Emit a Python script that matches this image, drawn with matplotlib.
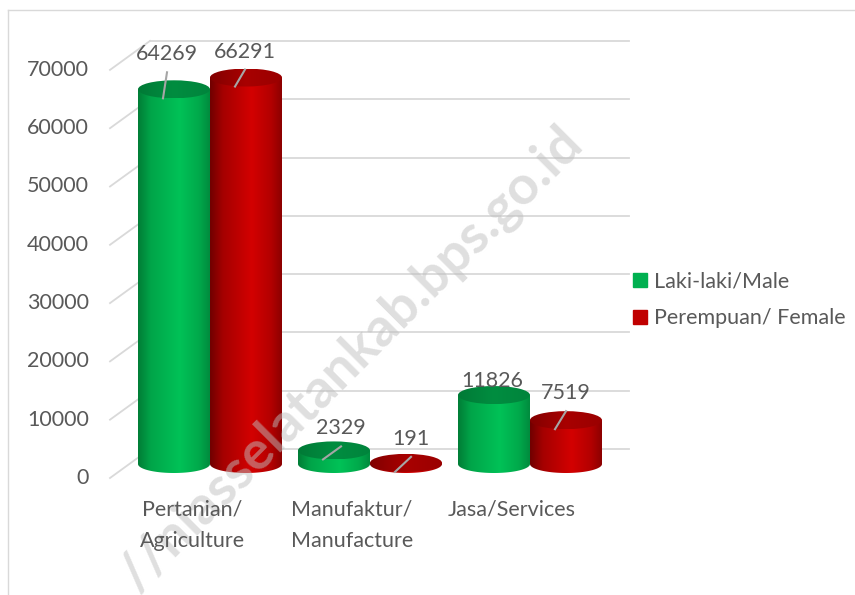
import matplotlib.pyplot as plt
import numpy as np
from matplotlib.patches import Ellipse, PathPatch
from matplotlib.path import Path
from matplotlib.lines import Line2D
from matplotlib.colors import LinearSegmentedColormap

plt.rcParams['font.family'] = ['Lato', 'DejaVu Sans']

# DATA
categories = ['Pertanian/\nAgriculture', 'Manufaktur/\nManufacture', 'Jasa/Services']
male = [64269, 2329, 11826]
female = [66291, 191, 7519]
series_names = ['Laki-laki/Male', 'Perempuan/ Female']
yticks = [0, 10000, 20000, 30000, 40000, 50000, 60000, 70000]

# LAYOUT (pixels)
W, H = 855, 595
PX_X = 160.0            # pixels per category step
PX_Y = 58.3 / 10000     # pixels per value unit
X0 = 210                # pixel x of first group
Y0 = 478                # pixel y of front floor
TXT = '#595959'
GRID = '#d9d9d9'
FS = 15.5
# data label offsets from top of each cylinder (pixels)
lab_off = [[(-7, -35), (7, -22), (-2, -14)],
           [(-1, -26), (5, -24), (0, -27)]]


def dx(px):
    return px / PX_X


def dy(px):
    return px / PX_Y


fig = plt.figure(figsize=(W / 100, H / 100), dpi=100)
ax = fig.add_axes([0, 0, 1, 1])
ax.axis('off')

# GRID: side wall diagonals and back wall lines
for v in yticks:
    ax.plot([dx(110 - X0), dx(150 - X0)], [v, v + dy(29)], color=GRID, lw=1.3, zorder=1)
    ax.plot([dx(150 - X0), dx(629 - X0)], [v + dy(29)] * 2, color=GRID, lw=1.3, zorder=1)
    ax.text(dx(89 - X0), v, str(v), ha='right', va='center', fontsize=FS, color=TXT)

green_body = LinearSegmentedColormap.from_list('g', [(0, '#007d36'), (0.18, '#00a549'), (0.58, '#00c257'), (0.85, '#00a94b'), (1, '#008b3e')])
red_body = LinearSegmentedColormap.from_list('r', [(0, '#700000'), (0.18, '#a50000'), (0.58, '#d30000'), (0.85, '#b30000'), (1, '#8c0000')])
green_top = LinearSegmentedColormap.from_list('gt', ['#007a36', '#008d40', '#00843c'])
red_top = LinearSegmentedColormap.from_list('rt', ['#820000', '#a80000', '#9a0000'])

grad = np.linspace(0, 1, 256).reshape(1, -1)
w = dx(72)
eh = dy(18)
base = dy(14)


def cylinder(cx, val, body_cmap, top_cmap):
    top = val + base
    t = np.linspace(np.pi, 2 * np.pi, 80)
    verts = [(cx - w / 2, top), (cx - w / 2, base)]
    verts += list(zip(cx + w / 2 * np.cos(t), base + eh / 2 * np.sin(t)))
    verts += [(cx + w / 2, top), (cx - w / 2, top)]
    codes = [Path.MOVETO] + [Path.LINETO] * (len(verts) - 2) + [Path.CLOSEPOLY]
    body = PathPatch(Path(verts, codes), facecolor='none', edgecolor='none')
    ax.add_patch(body)
    im = ax.imshow(grad, extent=[cx - w / 2, cx + w / 2, base - eh / 2, top],
                   aspect='auto', cmap=body_cmap, zorder=2)
    im.set_clip_path(body)
    cap = Ellipse((cx, top), w, eh, facecolor='none', edgecolor='none')
    ax.add_patch(cap)
    im2 = ax.imshow(grad, extent=[cx - w / 2, cx + w / 2, top - eh / 2, top + eh / 2],
                    aspect='auto', cmap=top_cmap, zorder=3)
    im2.set_clip_path(cap)
    return top


for s, (vals, bc, tc) in enumerate([(male, green_body, green_top), (female, red_body, red_top)]):
    for i, v in enumerate(vals):
        cx = i + (dx(-36) if s == 0 else dx(36))
        top = cylinder(cx, v, bc, tc)
        ox, oy = lab_off[s][i]
        lx, ly = cx + dx(ox), top - dy(oy)
        sx, sy = lx, ly - dy(18)
        ex, ey = cx - dx(11), top - dy(9)
        if np.hypot((sx - ex) * PX_X, (sy - ey) * PX_Y) > 15:
            ax.plot([sx, ex], [sy, ey], color='#a6a6a6', lw=1.5, zorder=4)
        ax.text(lx, ly, str(v), ha='center', va='center', fontsize=FS, color=TXT, zorder=6)

# CATEGORY LABELS
for i, c in enumerate(categories):
    ax.text(i - dx(18), -dy(499 - Y0), c, ha='center', va='top', fontsize=FS,
            color=TXT, linespacing=1.78, zorder=6)

# LEGEND
handles = [Line2D([], [], marker='s', color=c, linestyle='none', markersize=9.5)
           for c in ['#00b050', '#c00000']]
fig.legend(handles, series_names, loc='center left', bbox_to_anchor=(614 / W, 1 - 300 / H),
           frameon=False, fontsize=FS, labelcolor=TXT, handlelength=0.6,
           handletextpad=0.35, labelspacing=0.75)

# WATERMARK
ax.text(574 / W, 1 - 135 / H, '//niasselatankab.bps.go.id', transform=fig.transFigure,
        rotation=45, rotation_mode='anchor', ha='right', va='center', fontsize=39,
        fontweight='bold', color='#bfbfbf', alpha=0.5, zorder=5)

# CHART BORDER
fig.add_artist(Line2D([8 / W, 8 / W], [0, 1 - 10 / H], color=GRID, lw=1, transform=fig.transFigure))
fig.add_artist(Line2D([8 / W, 1], [1 - 10 / H, 1 - 10 / H], color=GRID, lw=1, transform=fig.transFigure))

ax.set_xlim(-X0 / PX_X, (W - X0) / PX_X)
ax.set_ylim(-(H - Y0) / PX_Y, Y0 / PX_Y)

fig.savefig('out.png', dpi=100)
